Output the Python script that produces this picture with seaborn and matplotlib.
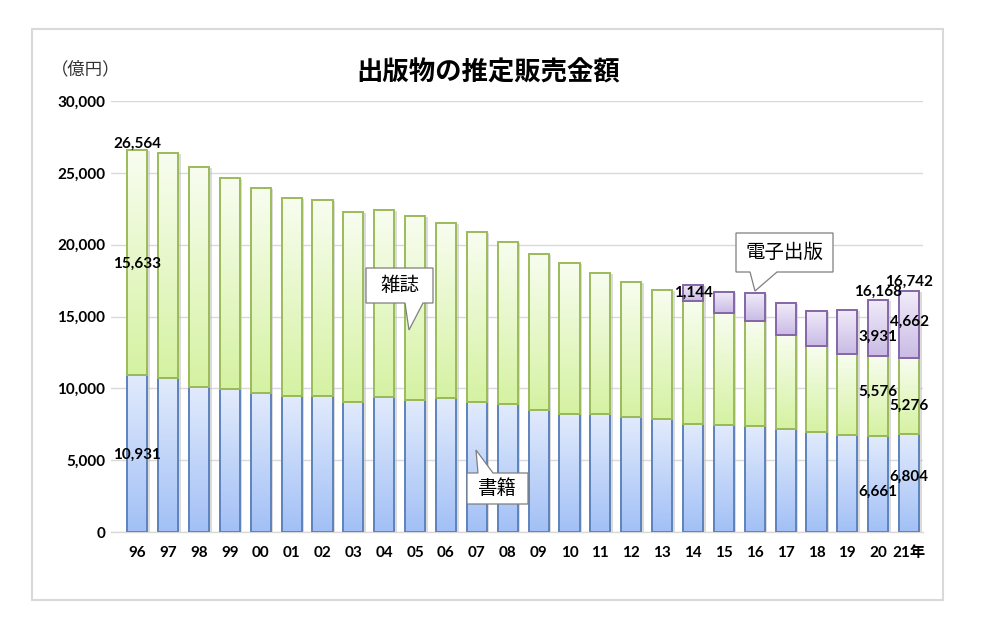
import numpy as np
import pandas as pd
import matplotlib
matplotlib.use("Agg")
import matplotlib.pyplot as plt
import matplotlib.transforms as mtransforms
from matplotlib.colors import LinearSegmentedColormap
from matplotlib.patches import Polygon, Rectangle
import seaborn as sns

# ---------------- data (億円) ----------------
years = ["96", "97", "98", "99", "00", "01", "02", "03", "04", "05", "06", "07", "08",
         "09", "10", "11", "12", "13", "14", "15", "16", "17", "18", "19", "20", "21年"]
books = [10931, 10730, 10100, 9936, 9706, 9456, 9490, 9056, 9429, 9197, 9326, 9026, 8878,
         8492, 8213, 8199, 8013, 7851, 7544, 7419, 7370, 7152, 6991, 6723, 6661, 6804]
magazines = [15633, 15644, 15315, 14672, 14261, 13794, 13616, 13222, 12998, 12767, 12200,
             11827, 11299, 10864, 10536, 9844, 9385, 8972, 8520, 7801, 7339, 6548, 5930,
             5637, 5576, 5276]
ebook_years = ["14", "15", "16", "17", "18", "19", "20", "21年"]
ebooks = [1144, 1502, 1909, 2215, 2479, 3072, 3931, 4662]

title = "出版物の推定販売金額"
unit_label = "（億円）"
yticks = [0, 5000, 10000, 15000, 20000, 25000, 30000]

# ---------------- style ----------------
sns.set_theme(style="white")
plt.rcParams["font.family"] = ["Lato", "Noto Sans CJK JP", "DejaVu Sans"]

W, H = 983, 617
fig = plt.figure(figsize=(W / 100, H / 100), dpi=100)
fig.patch.set_facecolor("white")
ax = fig.add_axes([111 / W, 1 - 532 / H, (923 - 111) / W, (532 - 101) / H])


def fx(x):
    return x / W


def fy(y):
    return 1 - y / H


df = pd.DataFrame({"year": years, "books": books, "magazines": magazines})
df["base_mag"] = df["books"]
ed = pd.DataFrame({"year": ebook_years, "ebooks": ebooks})
ed = ed.merge(df[["year", "books", "magazines"]], on="year")
ed["base_e"] = ed["books"] + ed["magazines"]

series = [
    dict(data=df, y="books", bottom=None, top="#e2ebfc", bot="#a2c0f6", edge="#5d83bd"),
    dict(data=df, y="magazines", bottom="base_mag", top="#f8fdf0", bot="#d5f2a2", edge="#9bbb59"),
    dict(data=ed, y="ebooks", bottom="base_e", top="#f1ecf9", bot="#c9bbe5", edge="#8566a8"),
]

grad = np.linspace(0, 1, 256).reshape(-1, 1)
shadow_off = mtransforms.ScaledTranslation(2.5 / 100, -1.0 / 100, fig.dpi_scale_trans)

for s in series:
    n0 = len(ax.patches)
    kws = {}
    if s["bottom"] is not None:
        kws["bottom"] = s["data"][s["bottom"]].values
    sns.barplot(data=s["data"], x="year", y=s["y"], order=years, width=0.65,
                color=s["bot"], saturation=1, ax=ax, errorbar=None, **kws)
    cmap = LinearSegmentedColormap.from_list("g", [s["bot"], s["top"]])
    for p in ax.patches[n0:]:
        x0, y0 = p.get_xy()
        w, h = p.get_width(), p.get_height()
        sh = Rectangle((x0, y0), w, h, facecolor="#bfbfbf", edgecolor="none", alpha=0.55,
                       transform=ax.transData + shadow_off, zorder=1.5)
        ax.add_patch(sh)
        im = ax.imshow(grad, extent=[x0, x0 + w, y0, y0 + h], origin="lower",
                       aspect="auto", cmap=cmap, zorder=2.5, interpolation="bilinear")
        im.set_clip_path(p)
        p.set_facecolor("none")
        p.set_edgecolor(s["edge"])
        p.set_linewidth(1.4)
        p.set_zorder(3)

ax.set_xlim(-0.85, 25.45)
ax.set_ylim(0, 30000)
ax.set_yticks(yticks)
ax.set_yticklabels([f"{v:,}" for v in yticks], fontsize=11, fontweight="bold", color="#000000")
ax.set_xticks(range(len(years)))
ax.set_xticklabels(years, fontsize=11, fontweight="bold", color="#000000")
ax.tick_params(axis="x", length=0, pad=10)
ax.tick_params(axis="y", length=0, pad=4)
ax.set_xlabel("")
ax.set_ylabel("")
ax.yaxis.grid(True, color="#d9d9d9", linewidth=1)
ax.xaxis.grid(False)
ax.set_axisbelow(True)
for side in ["top", "right", "left"]:
    ax.spines[side].set_visible(False)
ax.spines["bottom"].set_color("#d9d9d9")
ax.spines["bottom"].set_linewidth(1)
ax.set_facecolor("white")

# ---------------- data labels ----------------
totals = [b + m for b, m in zip(books, magazines)]
for yr, e in zip(ebook_years, ebooks):
    totals[years.index(yr)] += e


def seg_mid(i, kind):
    b, m = books[i], magazines[i]
    if kind == "total":
        return totals[i]
    if kind == "book":
        return b / 2
    if kind == "mag":
        return b + m / 2
    e = ebooks[ebook_years.index(years[i])]
    return b + m + e / 2


def seg_val(i, kind):
    if kind == "total":
        return totals[i]
    if kind == "book":
        return books[i]
    if kind == "mag":
        return magazines[i]
    return ebooks[ebook_years.index(years[i])]


label_specs = [  # (year, kind, offset px up)
    ("96", "total", 7), ("96", "mag", -1), ("96", "book", -1),
    ("14", "ebook", 0),
    ("20", "total", 8), ("20", "ebook", -9), ("20", "mag", 4), ("20", "book", -8),
    ("21年", "total", 10), ("21年", "ebook", 3), ("21年", "mag", -9), ("21年", "book", 6),
]
for yr, kind, dy in label_specs:
    i = years.index(yr)
    ax.annotate(f"{seg_val(i, kind):,}", xy=(i, seg_mid(i, kind)), xytext=(0, dy),
                textcoords="offset pixels", ha="center", va="center", fontsize=11,
                fontweight="bold", color="#000000", zorder=6, annotation_clip=False)

# ---------------- titles ----------------
fig.text(fx(488), fy(73), title, ha="center", va="center", fontsize=19,
         fontweight="bold", family=["Noto Sans CJK JP"], color="#000000")
fig.text(fx(86), fy(69), unit_label, ha="center", va="center", fontsize=12.5,
         family=["Noto Sans CJK JP"], color="#333333")

# ---------------- callouts ----------------
callouts = [
    ("雑誌", [(366, 268), (433, 268), (433, 303), (423, 303), (409, 330), (405, 303), (366, 303)]),
    ("電子出版", [(736, 233), (833, 233), (833, 272), (777, 272), (755, 291), (750, 272), (736, 272)]),
    ("書籍", [(467, 473), (478, 473), (476, 450), (493, 473), (528, 473), (528, 504), (467, 504)]),
]
box_centers_y = {"雑誌": (268 + 303) / 2, "電子出版": (233 + 272) / 2, "書籍": (473 + 504) / 2}
for text, pts in callouts:
    poly = Polygon([(fx(x), fy(y)) for x, y in pts], closed=True, transform=fig.transFigure,
                   facecolor="white", edgecolor="#7f7f7f", linewidth=0.9, zorder=10)
    fig.patches.append(poly)
    xs = [p[0] for p in pts]
    fig.text(fx((min(xs) + max(xs)) / 2), fy(box_centers_y[text]), text, ha="center",
             va="center", fontsize=14, family=["Noto Sans CJK JP"], color="#000000", zorder=11)

# ---------------- outer frame ----------------
fig.patches.append(Rectangle((fx(32), fy(600)), (943 - 32) / W, (600 - 29) / H,
                             transform=fig.transFigure, fill=False, edgecolor="#d9d9d9",
                             linewidth=1.5, zorder=0))

fig.savefig("out.png", dpi=100, facecolor="white")
